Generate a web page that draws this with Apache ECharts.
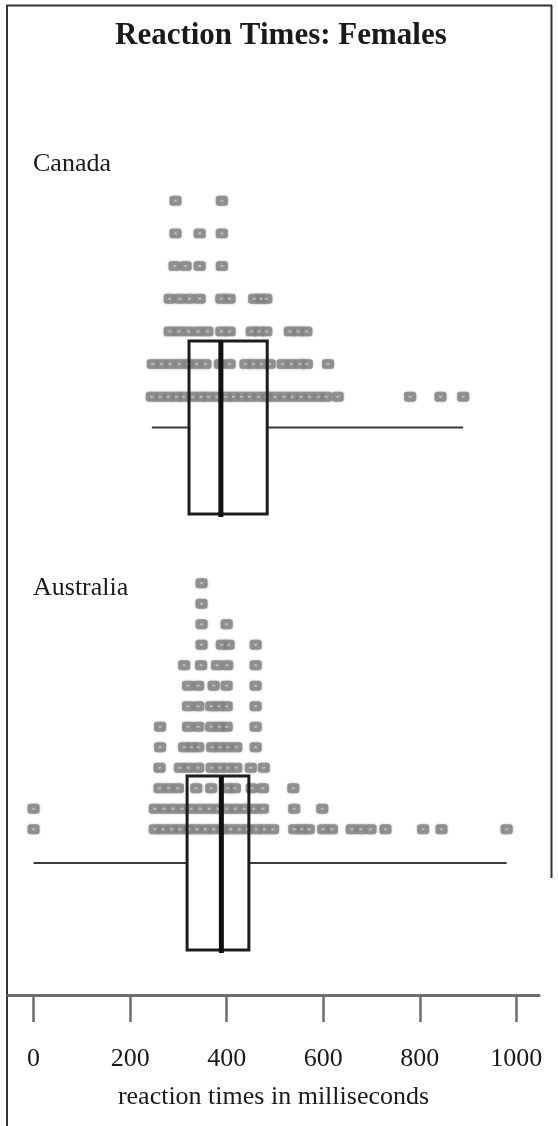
<!DOCTYPE html>
<html>
<head>
<meta charset="utf-8">
<title>Reaction Times: Females</title>
<script src="https://cdn.jsdelivr.net/npm/echarts@6/dist/echarts.min.js"></script>
<style>
  html, body { margin: 0; padding: 0; background: #fff; }
  #main { width: 558px; height: 1126px; }
</style>
</head>
<body>
<div id="main"></div>
<script>
// reaction times (ms), one list per stack level, bottom row first
var canadaLevels = [
    [245, 262, 279, 296, 311, 330, 347, 362, 380, 398, 414, 431, 447, 466, 483, 500, 519, 536, 554, 572, 590, 606, 630, 780, 843, 890],
    [247, 265, 283, 302, 320, 338, 356, 386, 406, 439, 455, 472, 489, 516, 534, 552, 566, 610],
    [282, 301, 321, 341, 360, 389, 406, 452, 467, 482, 531, 548, 565],
    [282, 303, 323, 344, 389, 406, 457, 471, 482],
    [292, 315, 344, 390],
    [294, 344, 390],
    [294, 390]
];
var australiaLevels = [
    [0, 251, 268, 286, 303, 321, 338, 356, 373, 391, 408, 426, 443, 461, 478, 496, 540, 556, 570, 600, 618, 659, 678, 698, 729, 807, 845, 980],
    [0, 251, 270, 289, 308, 326, 345, 364, 382, 400, 418, 437, 456, 475, 540, 598],
    [261, 280, 299, 337, 368, 402, 417, 452, 475, 538],
    [261, 303, 321, 341, 369, 386, 402, 420, 450, 477],
    [262, 312, 327, 341, 370, 386, 402, 420, 460],
    [262, 320, 341, 368, 385, 400, 460],
    [320, 341, 368, 384, 400, 460],
    [320, 341, 373, 400, 460],
    [312, 347, 380, 401, 460],
    [348, 390, 404, 460],
    [348, 400],
    [348],
    [348]
];
// five-number summaries: min, Q1, median, Q3, max
var canadaBox = [245, 322, 388, 484, 890];
var australiaBox = [0, 318, 389, 446, 980];
var tickValues = [0, 200, 400, 600, 800, 1000];

var chart = echarts.init(document.getElementById('main'));

var serif = 'Liberation Serif';
var xMin = -53, xMax = 1047;

function toPoints(levels) {
    var out = [];
    levels.forEach(function (row, i) {
        row.forEach(function (v) { out.push([v, i]); });
    });
    return out;
}

function renderBox(params, api) {
    var c = api.value(5);
    var pMin = api.coord([api.value(0), c]);
    var pQ1 = api.coord([api.value(1), c]);
    var pMed = api.coord([api.value(2), c]);
    var pQ3 = api.coord([api.value(3), c]);
    var pMax = api.coord([api.value(4), c]);
    var h = api.size([0, 1])[1];
    var whisker = { stroke: '#3a3a3a', lineWidth: 2 };
    return {
        type: 'group',
        children: [
            { type: 'line', shape: { x1: pMin[0], y1: pMin[1], x2: pQ1[0], y2: pQ1[1] }, style: whisker },
            { type: 'line', shape: { x1: pQ3[0], y1: pQ3[1], x2: pMax[0], y2: pMax[1] }, style: whisker },
            { type: 'rect', shape: { x: pQ1[0], y: pQ1[1] - h / 2, width: pQ3[0] - pQ1[0], height: h },
              style: { fill: 'none', stroke: '#1c1c1c', lineWidth: 3 } },
            { type: 'line', shape: { x1: pMed[0], y1: pMed[1] - h / 2, x2: pMed[0], y2: pMed[1] + h / 2 + 3 },
              style: { stroke: '#111', lineWidth: 5 } }
        ]
    };
}

function dotSeries(idx, levels) {
    var pts = toPoints(levels);
    return [{
        type: 'scatter', xAxisIndex: idx, yAxisIndex: idx, data: pts,
        symbol: 'roundRect', symbolSize: [11, 9], silent: true, z: 2,
        itemStyle: { color: '#858585', borderColor: '#8e8e8e', borderWidth: 1,
                     shadowBlur: 2, shadowColor: 'rgba(120,120,120,0.6)' }
    }, {
        type: 'scatter', xAxisIndex: idx, yAxisIndex: idx, data: pts,
        symbol: 'rect', symbolSize: [3, 2], silent: true, z: 3,
        itemStyle: { color: '#c4c4c4' }
    }];
}

function hiddenX(gi) {
    return { gridIndex: gi, type: 'value', min: xMin, max: xMax, show: false };
}

var series = [].concat(
    dotSeries(0, canadaLevels),
    dotSeries(2, australiaLevels),
    [{
        type: 'custom', xAxisIndex: 1, yAxisIndex: 1, renderItem: renderBox, z: 5,
        encode: { x: [0, 1, 2, 3, 4], y: 5 },
        data: [canadaBox.concat([0])]
    }, {
        type: 'custom', xAxisIndex: 3, yAxisIndex: 3, renderItem: renderBox, z: 5,
        encode: { x: [0, 1, 2, 3, 4], y: 5 },
        data: [australiaBox.concat([0])]
    }]
);

chart.setOption({
    backgroundColor: '#fff',
    animation: false,
    title: [
        { text: 'Reaction Times: Females', left: 115, top: 20, padding: 0,
          textStyle: { fontFamily: serif, fontWeight: 'bold', fontSize: 31, color: '#1a1a1a' } },
        { text: 'Canada', left: 33, top: 151, padding: 0,
          textStyle: { fontFamily: serif, fontWeight: 'normal', fontSize: 26, color: '#1a1a1a' } },
        { text: 'Australia', left: 33, top: 575, padding: 0,
          textStyle: { fontFamily: serif, fontWeight: 'normal', fontSize: 26, color: '#1a1a1a' } }
    ],
    grid: [
        { left: 8, right: 19, top: 184.4, height: 228.7 },
        { left: 8, right: 19, top: 341, height: 173 },
        { left: 8, right: 19, top: 573, height: 266.5 },
        { left: 8, right: 19, top: 776, height: 174 },
        { left: 8, right: 19, top: 990, height: 5 }
    ],
    xAxis: [
        hiddenX(0), hiddenX(1), hiddenX(2), hiddenX(3),
        {
            gridIndex: 4, type: 'value', min: xMin, max: xMax,
            splitLine: { show: false },
            axisLine: { lineStyle: { color: '#6c6c6c', width: 3 } },
            axisTick: { customValues: tickValues, length: 27, lineStyle: { color: '#6c6c6c', width: 2.5 } },
            axisLabel: { customValues: tickValues, margin: 51, fontFamily: serif, fontSize: 26, color: '#1a1a1a',
                         formatter: function (v) { return String(v); } },
            name: 'reaction times in milliseconds', nameLocation: 'middle', nameGap: 89,
            nameTextStyle: { fontFamily: serif, fontSize: 26, color: '#1a1a1a' }
        }
    ],
    yAxis: [
        { gridIndex: 0, type: 'value', min: -0.5, max: canadaLevels.length - 0.5, show: false },
        { gridIndex: 1, type: 'category', data: ['Canada'], show: false },
        { gridIndex: 2, type: 'value', min: -0.5, max: australiaLevels.length - 0.5, show: false },
        { gridIndex: 3, type: 'category', data: ['Australia'], show: false },
        { gridIndex: 4, type: 'value', show: false }
    ],
    graphic: [
        { type: 'line', shape: { x1: 7, y1: 5, x2: 7, y2: 1126 }, style: { stroke: '#333', lineWidth: 2 } },
        { type: 'line', shape: { x1: 6, y1: 5.5, x2: 552, y2: 5.5 }, style: { stroke: '#333', lineWidth: 2 } },
        { type: 'line', shape: { x1: 551.5, y1: 5, x2: 551.5, y2: 878 }, style: { stroke: '#333', lineWidth: 2 } }
    ],
    series: series
});
</script>
</body>
</html>
